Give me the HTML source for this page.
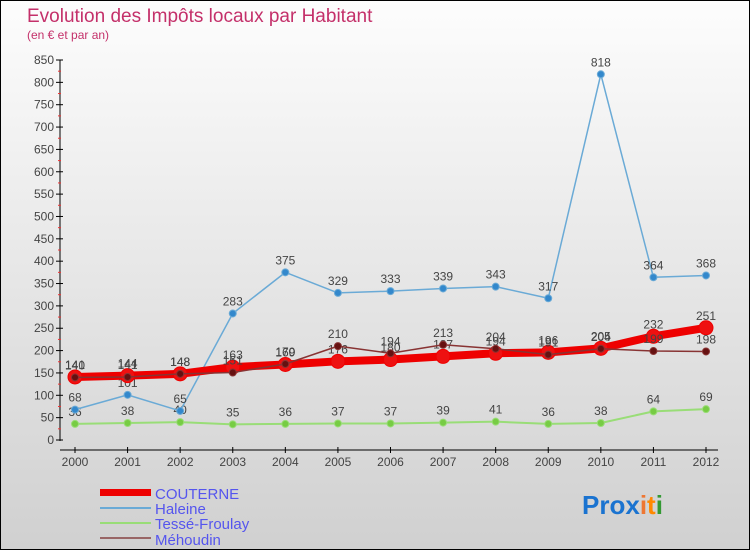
<!DOCTYPE html>
<html><head><meta charset="utf-8"><style>
body{margin:0}
#c{width:750px;height:550px;position:relative;overflow:hidden;background:linear-gradient(#fdfdfd,#d0d0d0);font-family:"Liberation Sans",sans-serif}
svg text{font-family:"Liberation Sans",sans-serif}
</style></head><body>
<div id="c">
<svg id="s" width="750" height="550">
<text x="27" y="22" font-size="19" fill="#c4306a">Evolution des Impôts locaux par Habitant</text>
<text x="27" y="39" font-size="12" fill="#c4306a">(en € et par an)</text>
<line x1="60" y1="60" x2="60" y2="441" stroke="#000"/>
<line x1="60" y1="450" x2="718" y2="450" stroke="#000"/>
<g id="ax"></g><g id="series"></g>
<g>
<rect x="100" y="489" width="51" height="7" fill="#e00"/>
<text x="155" y="499" font-size="15" fill="#5555ee">COUTERNE</text>
<rect x="100" y="507" width="51" height="2" fill="#6aaad6"/>
<text x="155" y="514" font-size="15" fill="#5555ee">Haleine</text>
<rect x="100" y="522" width="51" height="2" fill="#99dd77"/>
<text x="155" y="529" font-size="15" fill="#5555ee">Tessé-Froulay</text>
<rect x="100" y="537" width="51" height="2" fill="#996666"/>
<text x="155" y="545" font-size="15" fill="#5555ee">Méhoudin</text>
</g>
<g font-size="26" font-weight="bold">
<text x="582" y="514"><tspan fill="#1a73d0">Pro</tspan><tspan fill="#1a73d0">x</tspan><tspan fill="#e73">i</tspan><tspan fill="#f80">t</tspan><tspan fill="#393">i</tspan></text>
</g>
<rect x="0.5" y="0.5" width="749" height="549" fill="none" stroke="#000"/>
</svg></div>
<script>
const years=[2000,2001,2002,2003,2004,2005,2006,2007,2008,2009,2010,2011,2012];
const couterne=[141,144,148,163,169,176,180,187,194,196,205,232,251];
const haleine=[68,101,65,283,375,329,333,339,343,317,818,364,368];
const tesse=[36,38,40,35,36,37,37,39,41,36,38,64,69];
const mehoudin=[140,141,148,151,170,210,194,213,204,191,204,199,198];
const yTicks=[0,50,100,150,200,250,300,350,400,450,500,550,600,650,700,750,800,850];
const NS="http://www.w3.org/2000/svg";
const X=i=>75+i*(706-75)/(years.length-1);
const Y=v=>440-v*(380/850);
function mk(t,a,p){const e=document.createElementNS(NS,t);for(const k in a)e.setAttribute(k,a[k]);p.appendChild(e);return e;}
const ax=document.getElementById('ax');
yTicks.forEach(v=>{const y=Y(v);
 const l=mk('line',{x1:56,x2:63,y1:y,y2:y,stroke:'#000'},ax);
 
 
 const t=mk('text',{x:54,y:y+4,'font-size':12,'text-anchor':'end',fill:'#444'},ax);t.textContent=v;
 
 
 if(v<850){const r=mk('line',{x1:58,x2:61,y1:Y(v+25),y2:Y(v+25),stroke:'#e33'},ax);
 
 }
});
years.forEach((yr,i)=>{const x=X(i);
 const l=mk('line',{x1:x,x2:x,y1:447,y2:453,stroke:'#000'},ax);
 
 
 const t=mk('text',{x:x,y:466,'font-size':12,'text-anchor':'middle',fill:'#444'},ax);t.textContent=yr;
 
 
});
const sg=document.getElementById('series');
function series(name,data,color,w,r,dot){
 const g=mk('g',{},sg);
 
 
 const p=mk('polyline',{points:data.map((v,i)=>X(i)+','+Y(v)).join(' '),fill:'none',stroke:color,'stroke-width':w,'stroke-linejoin':'round'},g);
 
 
 data.forEach((v,i)=>{
  const c=mk('circle',{cx:X(i),cy:Y(v),r:r,fill:dot,stroke:color,'stroke-width':1},g);
  
  
  const t=mk('text',{x:X(i),y:Y(v)-8,'font-size':12,'text-anchor':'middle',fill:'#444'},g);t.textContent=v;
  
  
 });
}
series('tesse',tesse,'#99dd77',2,3.5,'#77cc44');
series('haleine',haleine,'#6aaad6',1.5,3.5,'#3388cc');
series('couterne',couterne,'#ee0000',8,7,'#ee1111');
series('mehoudin',mehoudin,'#883333',1.5,3.5,'#661111');
</script>
</body></html>
